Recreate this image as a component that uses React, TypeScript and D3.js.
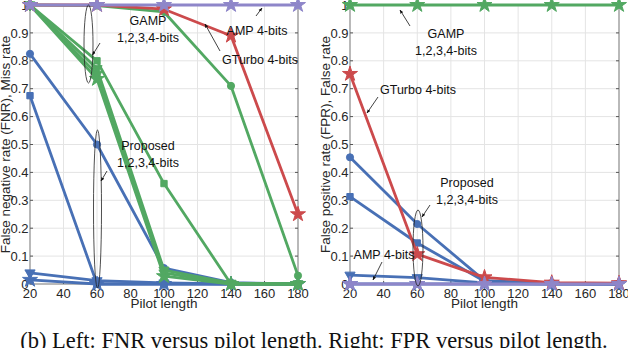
import React from "react";
import * as d3 from "d3";

// pilot lengths on the x axis
const pilot = [20, 60, 100, 140, 180];
const yTicks = [0, 0.1, 0.2, 0.3, 0.4, 0.5, 0.6, 0.7, 0.8, 0.9, 1];

// FNR (left)
const propFnrCircle = [0.825, 0.5, 0.057, 0.005, 0.0];
const propFnrSquare = [0.675, 0.0, 0.0, 0.0, 0.0];
const propFnrTri = [0.04, 0.012, 0.004, 0.0, 0.0];
const propFnrStar = [0.015, 0.0, 0.0, 0.0, 0.0];
const gampFnrCircle = [1, 0.998, 0.975, 0.71, 0.03];
const gampFnrSquare = [1, 0.8, 0.36, 0.0, 0.0];
const gampFnrTri = [1, 0.772, 0.05, 0.003, 0.0];
const gampFnrTri2 = [1, 0.752, 0.04, 0.0, 0.0];
const gampFnrStar = [1, 0.735, 0.028, 0.0, 0.0];
const gturboFnr = [1, 1, 0.985, 0.89, 0.25];
const ampFnr = [1, 1, 1, 1, 1];

// FPR (right)
const propFprCircle = [0.454, 0.215, 0.012, 0.002, 0.0];
const propFprSquare = [0.313, 0.147, 0.01, 0.002, 0.0];
const propFprTri = [0.032, 0.023, 0.004, 0.0, 0.0];
const propFprStar = [0, 0, 0, 0, 0];
const gampFpr = [1, 1, 1, 1, 1];
const gturboFpr = [0.753, 0.107, 0.024, 0.005, 0.003];
const ampFpr = [0, 0, 0, 0, 0];

const BLUE = "#4870b5";
const GREEN = "#52a862";
const RED = "#cc4a4c";
const PURPLE = "#8e86c9";

type Series = { values: number[]; color: string; marker: string };

const leftSeries: Series[] = [
  { values: propFnrCircle, color: BLUE, marker: "circle" },
  { values: propFnrSquare, color: BLUE, marker: "square" },
  { values: propFnrTri, color: BLUE, marker: "tri" },
  { values: propFnrStar, color: BLUE, marker: "star" },
  { values: gampFnrCircle, color: GREEN, marker: "circle" },
  { values: gampFnrSquare, color: GREEN, marker: "square" },
  { values: gampFnrTri, color: GREEN, marker: "tri" },
  { values: gampFnrTri2, color: GREEN, marker: "tri" },
  { values: gampFnrStar, color: GREEN, marker: "star" },
  { values: gturboFnr, color: RED, marker: "star" },
  { values: ampFnr, color: PURPLE, marker: "star" },
];

const rightSeries: Series[] = [
  { values: gampFpr, color: GREEN, marker: "star" },
  { values: propFprCircle, color: BLUE, marker: "circle" },
  { values: propFprSquare, color: BLUE, marker: "square" },
  { values: propFprTri, color: BLUE, marker: "tri" },
  { values: propFprStar, color: BLUE, marker: "star" },
  { values: gturboFpr, color: RED, marker: "star" },
  { values: ampFpr, color: PURPLE, marker: "star" },
];

function markerPath(m: string) {
  if (m === "circle") return d3.symbol(d3.symbolCircle, 40)()!;
  if (m === "square") return d3.symbol(d3.symbolSquare, 40)()!;
  if (m === "tri") return d3.symbol(d3.symbolTriangle, 45)()!;
  return d3.symbol(d3.symbolStar, 70)()!;
}

type Note = { lines: string[]; x: number; y: number };
type Arrow = { x1: number; y1: number; x2: number; y2: number };
type Ell = { cx: number; cy: number; rx: number; ry: number };

function Panel(props: {
  x0: number; x1: number; series: Series[]; ylabel: string;
  notes: Note[]; arrows: Arrow[]; ellipses: Ell[]; id: string;
}) {
  const { x0, x1, series, ylabel, notes, arrows, ellipses, id } = props;
  const top = 5, bottom = 284;
  const x = d3.scaleLinear().domain([20, 180]).range([x0, x1]);
  const y = d3.scaleLinear().domain([0, 1]).range([bottom, top]);
  const line = d3.line<number>().x((_, i) => x(pilot[i])).y(d => y(d));
  const font = "Liberation Sans, Arial, sans-serif";
  const xTicks = d3.range(20, 200, 20);
  return (
    <g>
      <defs>
        <marker id={"ah" + id} viewBox="0 0 10 10" refX="9" refY="5" markerWidth="5" markerHeight="5" orient="auto">
          <path d="M0,1 L10,5 L0,9 z" fill="#111" />
        </marker>
      </defs>
      <rect x={x0} y={top} width={x1 - x0} height={bottom - top} fill="white" />
      {xTicks.map(p => (
        <line key={"gx" + p} x1={x(p)} x2={x(p)} y1={top} y2={bottom} stroke="#e4e4e4" strokeWidth={1} />
      ))}
      {yTicks.map(t => (
        <line key={"gy" + t} x1={x0} x2={x1} y1={y(t)} y2={y(t)} stroke="#e4e4e4" strokeWidth={1} />
      ))}
      <rect x={x0} y={top} width={x1 - x0} height={bottom - top} fill="none" stroke="#b9b9b9" strokeWidth={2} />
      {yTicks.map(t => (
        <g key={"ty" + t}>
          <line x1={x0} x2={x0 + 3} y1={y(t)} y2={y(t)} stroke="#555" strokeWidth={1} />
          <line x1={x1} x2={x1 - 3} y1={y(t)} y2={y(t)} stroke="#555" strokeWidth={1} />
          <text x={x0 - 1.5} y={y(t)} dy="0.36em" textAnchor="end" fontSize={13} fill="#262626" fontFamily={font}>
            {t === 0 ? "0" : t === 1 ? "1" : d3.format(".1f")(t)}
          </text>
        </g>
      ))}
      {xTicks.map(t => (
        <g key={"tx" + t}>
          <line x1={x(t)} x2={x(t)} y1={bottom} y2={bottom - 3} stroke="#555" strokeWidth={1} />
          <text x={x(t)} y={298} textAnchor="middle" fontSize={13} fill="#262626" fontFamily={font}>{t}</text>
        </g>
      ))}
      <text x={(x0 + x1) / 2} y={308} textAnchor="middle" fontSize={13.5} fill="#262626" fontFamily={font}>Pilot length</text>
      <text transform={`translate(${x0 - 20},${(top + bottom) / 2}) rotate(-90)`} textAnchor="middle" fontSize={13.5} fill="#262626" fontFamily={font}>{ylabel}</text>
      {series.map((s, i) => (
        <g key={"s" + i}>
          <path d={line(s.values)!} fill="none" stroke={s.color} strokeWidth={2.8} strokeLinejoin="round" />
          {s.values.map((v, j) => (
            <path key={j} d={markerPath(s.marker)} transform={`translate(${x(pilot[j])},${y(v)})${s.marker === "tri" ? " rotate(180)" : ""}`} fill={s.color} stroke={s.color} strokeWidth={1} />
          ))}
        </g>
      ))}
      {ellipses.map((e, i) => (
        <ellipse key={"e" + i} cx={e.cx} cy={e.cy} rx={e.rx} ry={e.ry} fill="none" stroke="#222" strokeWidth={0.8} />
      ))}
      {arrows.map((a, i) => (
        <line key={"a" + i} x1={a.x1} y1={a.y1} x2={a.x2} y2={a.y2} stroke="#111" strokeWidth={0.8} markerEnd={`url(#ah${id})`} />
      ))}
      {notes.map((n, i) => (
        <text key={"n" + i} x={n.x} y={n.y} textAnchor="middle" fontSize={12.5} fill="#111" fontFamily={font}>
          {n.lines.map((l, k) => (
            <tspan key={k} x={n.x} dy={k === 0 ? 0 : 16.5}>{l}</tspan>
          ))}
        </text>
      ))}
    </g>
  );
}

export default function App() {
  return (
    <svg width={628} height={348} style={{ position: "absolute", left: 0, top: 0, background: "white" }}>
      <rect width={628} height={348} fill="white" />
      <Panel
        id="L" x0={30} x1={298} series={leftSeries}
        ylabel="False negative rate (FNR), Miss rate"
        notes={[
          { lines: ["GAMP", "1,2,3,4-bits"], x: 148, y: 25 },
          { lines: ["AMP 4-bits"], x: 257, y: 35 },
          { lines: ["GTurbo 4-bits"], x: 260, y: 64 },
          { lines: ["Proposed", "1,2,3,4-bits"], x: 148, y: 150 },
        ]}
        arrows={[
          { x1: 100, y1: 43, x2: 92.5, y2: 55 },
          { x1: 256, y1: 16, x2: 262, y2: 8 },
          { x1: 220, y1: 51, x2: 205, y2: 24 },
          { x1: 107, y1: 171, x2: 101, y2: 181 },
        ]}
        ellipses={[
          { cx: 88.5, cy: 44, rx: 4.5, ry: 39 },
          { cx: 97.5, cy: 209, rx: 4, ry: 79 },
        ]}
      />
      <Panel
        id="R" x0={350} x1={619} series={rightSeries}
        ylabel="False positive rate (FPR), False rate"
        notes={[
          { lines: ["GAMP", "1,2,3,4-bits"], x: 446, y: 38 },
          { lines: ["GTurbo 4-bits"], x: 418, y: 94 },
          { lines: ["Proposed", "1,2,3,4-bits"], x: 467, y: 187 },
          { lines: ["AMP 4-bits"], x: 384, y: 259 },
        ]}
        arrows={[
          { x1: 410, y1: 26, x2: 400, y2: 10 },
          { x1: 378, y1: 97, x2: 367, y2: 113 },
          { x1: 430, y1: 205, x2: 422, y2: 217 },
          { x1: 382, y1: 262, x2: 373, y2: 280 },
        ]}
        ellipses={[
          { cx: 418, cy: 248, rx: 5, ry: 38 },
        ]}
      />
      <text x={314} y={348} textAnchor="middle" fontSize={22.5} fill="#111" fontFamily="Liberation Serif, Times New Roman, serif">
        (b) Left: FNR versus pilot length. Right: FPR versus pilot length.
      </text>
    </svg>
  );
}
